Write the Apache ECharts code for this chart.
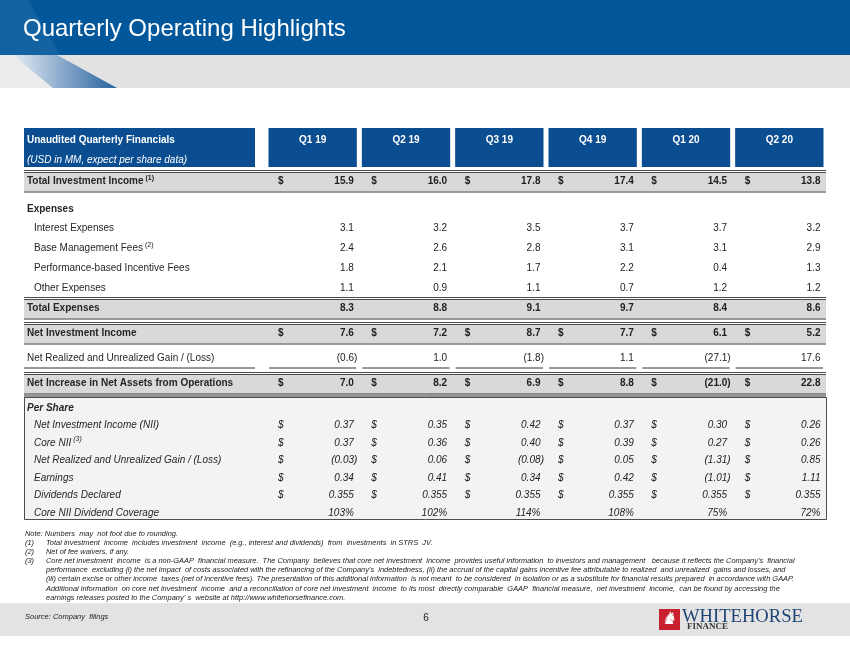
<!DOCTYPE html>
<html>
<head>
<meta charset="utf-8">
<script src="https://cdn.jsdelivr.net/npm/echarts@6/dist/echarts.min.js"></script>
<style>
  html, body { margin: 0; padding: 0; background: #fff; }
  #main { width: 850px; height: 650px; }
</style>
</head>
<body>
<div id="main"></div>
<script>
// table values (USD in MM, per share in USD)
const quarters = ['Q1 19', 'Q2 19', 'Q3 19', 'Q4 19', 'Q1 20', 'Q2 20'];

const totalInvestmentIncome = [15.9, 16.0, 17.8, 17.4, 14.5, 13.8];
const interestExpenses = [3.1, 3.2, 3.5, 3.7, 3.7, 3.2];
const baseManagementFees = [2.4, 2.6, 2.8, 3.1, 3.1, 2.9];
const incentiveFees = [1.8, 2.1, 1.7, 2.2, 0.4, 1.3];
const otherExpenses = [1.1, 0.9, 1.1, 0.7, 1.2, 1.2];
const totalExpenses = [8.3, 8.8, 9.1, 9.7, 8.4, 8.6];
const netInvestmentIncome = [7.6, 7.2, 8.7, 7.7, 6.1, 5.2];
const netRealizedGain = [-0.6, 1.0, -1.8, 1.1, -27.1, 17.6];
const netIncrease = [7.0, 8.2, 6.9, 8.8, -21.0, 22.8];

const niiPerShare = [0.37, 0.35, 0.42, 0.37, 0.30, 0.26];
const coreNiiPerShare = [0.37, 0.36, 0.40, 0.39, 0.27, 0.26];
const gainPerShare = [-0.03, 0.06, -0.08, 0.05, -1.31, 0.85];
const earningsPerShare = [0.34, 0.41, 0.34, 0.42, -1.01, 1.11];
const dividendsPerShare = [0.355, 0.355, 0.355, 0.355, 0.355, 0.355];
const dividendCoverage = [103, 102, 114, 108, 75, 72];

const headerTitle = 'Unaudited Quarterly Financials';
const headerSubtitle = '(USD in MM, expect per share data)';

const footnotes = [
  ['Note:', 'Numbers  may  not foot due to rounding.'],
  ['(1)', 'Total investment  income  includes investment  income  (e.g., interest and dividends)  from  investments  in STRS  JV.'],
  ['(2)', 'Net of fee waivers, if any.'],
  ['(3)', 'Core net investment  income  is a non-GAAP  financial measure.  The Company  believes that core net investment  income  provides useful information  to investors and management   because it reflects the Company\u2019s  financial'],
  ['', 'performance  excluding (i) the net impact  of costs associated with the refinancing of the Company\u2019s  indebtedness, (ii) the accrual of the capital gains incentive fee attributable to realized  and unrealized  gains and losses, and'],
  ['', '(iii) certain excise or other income  taxes (net of incentive fees). The presentation of this additional information  is not meant  to be considered  in isolation or as a substitute for financial results prepared  in accordance with GAAP.'],
  ['', 'Additional information  on core net investment  income  and a reconciliation of core net investment  income  to its most  directly comparable  GAAP  financial measure,  net investment  income,  can be found by accessing the'],
  ['', 'earnings releases posted to the Company\u2019 s  website at http://www.whitehorsefinance.com.']
];

// ---------------------------------------------------------------------------
const chart = echarts.init(document.getElementById('main'));

const FONT = '"Liberation Sans", Arial, Helvetica, sans-serif';
const LABEL_W = 242;          // label column, left of the quarter columns
const GRID_LEFT = 266;
const GRID_RIGHT = 24;
const NOTE_SIZE = 7.45;

function font(style, size) {
  return (style.indexOf('i') >= 0 ? 'italic ' : '') +
    (style.indexOf('b') >= 0 ? 'bold ' : '') + size + 'px ' + FONT;
}

function fmtValue(v, kind) {
  const digits = { usd: 1, num: 1, ps2: 2, ps3: 3, pct: 0 }[kind];
  let s = Math.abs(v).toFixed(digits);
  if (kind === 'pct') s += '%';
  return v < 0 ? '(' + s + ')' : s;
}

const sections = [
  { top: 171, height: 21, rows: [
    { label: 'Total Investment Income', note: '(1)', values: totalInvestmentIncome, fmt: 'usd', style: 'b', band: true }
  ] },
  { top: 199, height: 99, rows: [
    { label: 'Expenses', style: 'b' },
    { label: 'Interest Expenses', values: interestExpenses, fmt: 'num', style: 'r', indent: true },
    { label: 'Base Management Fees', note: '(2)', values: baseManagementFees, fmt: 'num', style: 'r', indent: true },
    { label: 'Performance-based Incentive Fees', values: incentiveFees, fmt: 'num', style: 'r', indent: true },
    { label: 'Other Expenses', values: otherExpenses, fmt: 'num', style: 'r', indent: true }
  ] },
  { top: 296, height: 100, rows: [
    { label: 'Total Expenses', values: totalExpenses, fmt: 'num', style: 'b', band: true },
    { label: 'Net Investment Income', values: netInvestmentIncome, fmt: 'usd', style: 'b', band: true },
    { label: 'Net Realized and Unrealized Gain / (Loss)', values: netRealizedGain, fmt: 'num', style: 'r', underline: true },
    { label: 'Net Increase in Net Assets from Operations', values: netIncrease, fmt: 'usd', style: 'b', band: true, doubleBottom: true }
  ] },
  { top: 399, height: 123, box: true, rows: [
    { label: 'Per Share', style: 'bi' },
    { label: 'Net Investment Income (NII)', values: niiPerShare, fmt: 'ps2', style: 'i', indent: true },
    { label: 'Core NII', note: '(3)', values: coreNiiPerShare, fmt: 'ps2', style: 'i', indent: true },
    { label: 'Net Realized and Unrealized Gain / (Loss)', values: gainPerShare, fmt: 'ps2', style: 'i', indent: true },
    { label: 'Earnings', values: earningsPerShare, fmt: 'ps2', style: 'i', indent: true },
    { label: 'Dividends Declared', values: dividendsPerShare, fmt: 'ps3', style: 'i', indent: true },
    { label: 'Core NII Dividend Coverage', values: dividendCoverage, fmt: 'pct', style: 'i', indent: true }
  ] }
];

// rich styles for the row labels on the y axes
const rich = {};
['r', 'b', 'i', 'bi'].forEach(function (s) {
  const base = {
    fontFamily: FONT, fontSize: 10, lineHeight: 14, color: '#262626',
    fontWeight: s.indexOf('b') >= 0 ? 'bold' : 'normal',
    fontStyle: s.indexOf('i') >= 0 ? 'italic' : 'normal'
  };
  rich[s] = base;
  rich[s + 'in'] = Object.assign({}, base, { padding: [0, 0, 0, 7] });
  rich[s + 'sup'] = Object.assign({}, base, { fontSize: 7, lineHeight: 14, verticalAlign: 'top', padding: [0, 0, 0, 2] });
});

const grids = [{ left: GRID_LEFT, right: GRID_RIGHT, top: 128, height: 39, outerBoundsMode: 'none' }];
const xAxes = [{ type: 'category', gridIndex: 0, data: quarters, show: false }];
const yAxes = [{ type: 'category', gridIndex: 0, data: ['header'], show: false }];
const series = [];

// header boxes
series.push({
  type: 'custom', xAxisIndex: 0, yAxisIndex: 0, z: 3, clip: false, silent: true,
  data: quarters.map(function (q, i) { return [i, 0]; }),
  renderItem: function (params, api) {
    const qi = api.value(0);
    const cs = params.coordSys;
    const c = api.coord([qi, 0]);
    const bw = api.size([1, 0])[0];
    const children = [
      { type: 'rect', shape: { x: c[0] - bw / 2 + 2.5, y: cs.y, width: bw - 5, height: cs.height }, style: { fill: '#0b4d91' } },
      { type: 'text', x: c[0], y: cs.y + 12, style: { text: quarters[qi], font: font('b', 10), fill: '#fff', align: 'center', verticalAlign: 'middle' } }
    ];
    if (qi === 0) {
      children.push(
        { type: 'rect', shape: { x: cs.x - LABEL_W, y: cs.y, width: LABEL_W - 11, height: cs.height }, style: { fill: '#0b4d91' } },
        { type: 'text', x: cs.x - LABEL_W + 3, y: cs.y + 12, style: { text: headerTitle, font: font('b', 10), fill: '#fff', align: 'left', verticalAlign: 'middle' } },
        { type: 'text', x: cs.x - LABEL_W + 3, y: cs.y + 32, style: { text: headerSubtitle, font: font('i', 10), fill: '#fff', align: 'left', verticalAlign: 'middle' } }
      );
    }
    return { type: 'group', children: children };
  }
});

sections.forEach(function (sec, si) {
  const gi = si + 1;
  grids.push({ left: GRID_LEFT, right: GRID_RIGHT, top: sec.top, height: sec.height, outerBoundsMode: 'none' });
  xAxes.push({ type: 'category', gridIndex: gi, data: quarters, show: false });
  yAxes.push({
    type: 'category', gridIndex: gi, inverse: true, z: 10,
    data: sec.rows.map(function (r) { return r.label; }),
    axisLine: { show: false }, axisTick: { show: false }, splitLine: { show: false },
    axisLabel: {
      interval: 0, align: 'left', margin: LABEL_W - 3, rich: rich,
      formatter: function (value, index) {
        const r = sec.rows[index];
        let s = '{' + r.style + (r.indent ? 'in' : '') + '|' + value + '}';
        if (r.note) s += '{' + r.style + 'sup|' + r.note + '}';
        return s;
      }
    }
  });

  // bands, rules and the per-share frame
  series.push({
    type: 'custom', xAxisIndex: gi, yAxisIndex: gi, z: 1, clip: false, silent: true,
    data: sec.rows.map(function (r, ri) { return [0, ri]; }),
    renderItem: function (params, api) {
      const ri = api.value(1);
      const r = sec.rows[ri];
      const cs = params.coordSys;
      const cy = api.coord([0, ri])[1];
      const x0 = cs.x - LABEL_W, x1 = cs.x + cs.width;
      const children = [];
      if (sec.box && ri === 0) {
        children.push({ type: 'rect', shape: { x: x0 + 0.5, y: cs.y - 1.5, width: x1 - x0, height: cs.height - 1 },
          style: { fill: '#f3f3f3', stroke: '#4d4d4d', lineWidth: 1 } });
      }
      if (r.band) {
        children.push(
          { type: 'rect', shape: { x: x0, y: cy - 9, width: x1 - x0, height: 19 }, style: { fill: '#d9d9d9' } },
          { type: 'line', shape: { x1: x0, y1: cy - 11, x2: x1, y2: cy - 11 }, style: { stroke: '#4a4a4a', lineWidth: 1 } },
          { type: 'line', shape: { x1: x0, y1: cy - 9, x2: x1, y2: cy - 9 }, style: { stroke: '#4a4a4a', lineWidth: 1 } }
        );
        if (r.doubleBottom) {
          children.push(
            { type: 'line', shape: { x1: x0, y1: cy + 10.5, x2: x1, y2: cy + 10.5 }, style: { stroke: '#2b2b2b', lineWidth: 1 } },
            { type: 'line', shape: { x1: x0, y1: cy + 12.5, x2: x1, y2: cy + 12.5 }, style: { stroke: '#2b2b2b', lineWidth: 1 } }
          );
        } else {
          children.push({ type: 'line', shape: { x1: x0, y1: cy + 10.5, x2: x1, y2: cy + 10.5 }, style: { stroke: '#7b7b7b', lineWidth: 1.5 } });
        }
      }
      if (r.underline) {
        children.push({ type: 'line', shape: { x1: x0, y1: cy + 9.5, x2: cs.x - 11, y2: cy + 9.5 }, style: { stroke: '#333', lineWidth: 1 } });
      }
      return { type: 'group', children: children };
    }
  });

  // value cells
  const cells = [];
  sec.rows.forEach(function (r, ri) {
    if (!r.values) return;
    r.values.forEach(function (v, qi) { cells.push([qi, ri, v]); });
  });
  series.push({
    type: 'custom', xAxisIndex: gi, yAxisIndex: gi, z: 3, clip: false, silent: true,
    data: cells,
    renderItem: function (params, api) {
      const qi = api.value(0), ri = api.value(1), v = api.value(2);
      const r = sec.rows[ri];
      const c = api.coord([qi, ri]);
      const bw = api.size([1, 0])[0];
      const left = c[0] - bw / 2, right = c[0] + bw / 2;
      const f = font(r.style, 10);
      const children = [];
      if (r.fmt === 'usd' || r.fmt === 'ps2' || r.fmt === 'ps3') {
        children.push({ type: 'text', x: left + 12, y: c[1], style: { text: '$', font: f, fill: '#222', align: 'left', verticalAlign: 'middle' } });
      }
      children.push({ type: 'text', x: right - (v < 0 ? 2 : 5.5), y: c[1],
        style: { text: fmtValue(v, r.fmt), font: f, fill: '#222', align: 'right', verticalAlign: 'middle' } });
      if (r.underline) {
        children.push({ type: 'line', shape: { x1: left + 3, y1: c[1] + 9.5, x2: right - 3, y2: c[1] + 9.5 }, style: { stroke: '#333', lineWidth: 1 } });
      }
      return { type: 'group', children: children };
    }
  });
});

// slide furniture: title bar, footnotes, footer, logo
const graphics = [
  { type: 'rect', shape: { x: 0, y: 0, width: 850, height: 55 }, style: { fill: '#02579b' }, z: 0 },
  { type: 'polygon', shape: { points: [[0, 0], [28, 0], [60, 55], [0, 55]] }, style: { fill: 'rgba(255,255,255,0.07)' }, z: 0 },
  { type: 'rect', shape: { x: 0, y: 55, width: 850, height: 33 }, style: { fill: '#e2e2e2' }, z: 0 },
  { type: 'polygon', shape: { points: [[0, 55], [13, 55], [53, 88], [0, 88]] }, style: { fill: 'rgba(255,255,255,0.35)' }, z: 0 },
  { type: 'polygon', shape: { points: [[13, 55], [57, 55], [117, 88], [53, 88]] },
    style: { fill: new echarts.graphic.LinearGradient(0, 0, 1, 0, [{ offset: 0, color: '#e4ebf3' }, { offset: 1, color: '#25629f' }]) }, z: 0 },
  { type: 'rect', shape: { x: 0, y: 603, width: 850, height: 33 }, style: { fill: '#e3e3e3' }, z: 0 },
  { type: 'text', x: 25, y: 617, style: { text: 'Source: Company  filings', font: font('i', 7.5), fill: '#222', align: 'left', verticalAlign: 'middle' }, z: 1 },
  { type: 'text', x: 426, y: 618, style: { text: '6', font: font('r', 10), fill: '#222', align: 'center', verticalAlign: 'middle' }, z: 1 },
  { type: 'rect', shape: { x: 659, y: 609, width: 21, height: 21 }, style: { fill: '#c8202f' }, z: 1 },
  { type: 'text', x: 670, y: 620, scaleX: -1, style: { text: '\u265E', font: '17px "DejaVu Sans"', fill: '#fff', align: 'center', verticalAlign: 'middle' }, z: 2 },
  { type: 'text', x: 682, y: 617, style: { text: 'WHITEHORSE', font: '18.6px "Liberation Serif", "Times New Roman", serif', fill: '#1f4473', align: 'left', verticalAlign: 'middle' }, z: 1 },
  { type: 'text', x: 687, y: 627, style: { text: 'FINANCE', font: 'bold 9px "Liberation Serif", "Times New Roman", serif', fill: '#333', align: 'left', verticalAlign: 'middle' }, z: 1 }
];
const noteY = [533.5, 542.5, 551.5, 561, 570, 579, 588.5, 597.5];
footnotes.forEach(function (n, i) {
  if (n[0] === 'Note:') {
    graphics.push({ type: 'text', x: 25, y: noteY[i], style: { text: n[0] + ' ' + n[1], font: font('i', NOTE_SIZE), fill: '#1a1a1a', align: 'left', verticalAlign: 'middle' }, z: 1 });
    return;
  }
  if (n[0]) {
    graphics.push({ type: 'text', x: 25, y: noteY[i], style: { text: n[0], font: font('i', NOTE_SIZE), fill: '#1a1a1a', align: 'left', verticalAlign: 'middle' }, z: 1 });
  }
  graphics.push({ type: 'text', x: 46, y: noteY[i], style: { text: n[1], font: font('i', NOTE_SIZE), fill: '#1a1a1a', align: 'left', verticalAlign: 'middle' }, z: 1 });
});

const option = {
  animation: false,
  title: {
    text: 'Quarterly Operating Highlights',
    left: 23, top: 17, padding: 0,
    textStyle: { color: '#fff', fontSize: 24, fontWeight: 'normal', fontFamily: FONT }
  },
  grid: grids,
  xAxis: xAxes,
  yAxis: yAxes,
  series: series,
  graphic: { elements: graphics }
};

chart.setOption(option);
</script>
</body>
</html>
